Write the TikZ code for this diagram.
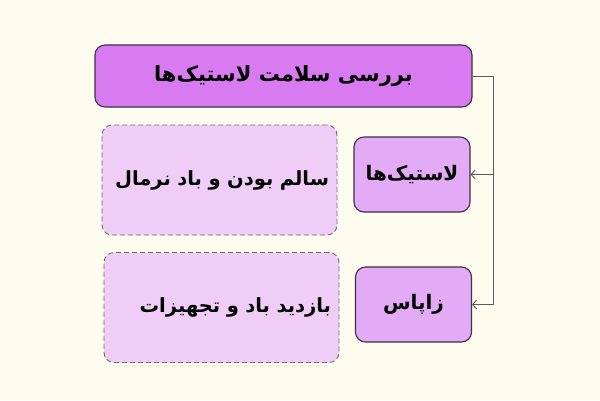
\documentclass[tikz,border=0pt]{standalone}
\usepackage{fontspec}
\TeXXeTstate=1
\newfontfamily\fafont[Script=Arabic]{DejaVu Sans}
\usetikzlibrary{arrows.meta}
\definecolor{bgcream}{HTML}{FDFCEE}
\definecolor{headfill}{HTML}{D97BF0}
\definecolor{tirefill}{HTML}{E3ABF5}
\definecolor{notefill}{HTML}{F0CDF6}
\definecolor{boxedge}{HTML}{3E2F48}
\definecolor{noteedge}{HTML}{6F6872}
\definecolor{linkgray}{HTML}{5A5A5A}

\begin{document}
\begin{tikzpicture}[x=1pt, y=-1pt,
    headbox/.style={draw=boxedge, line width=1.1pt, fill=headfill, rounded corners=10pt,
        minimum width=377pt, minimum height=62pt, inner sep=0pt,
        font=\fafont\bfseries\fontsize{21}{25}\selectfont},
    itembox/.style={draw=boxedge, line width=1.1pt, fill=tirefill, rounded corners=10pt,
        minimum width=116pt, minimum height=75pt, inner sep=0pt,
        font=\fafont\bfseries\fontsize{20}{24}\selectfont},
    notebox/.style={draw=noteedge, dash pattern=on 5pt off 3pt, line width=0.9pt, fill=notefill,
        rounded corners=10pt, text width=219pt, minimum height=110pt, inner xsep=8pt, align=right,
        font=\fafont\bfseries\fontsize{19.5}{23}\selectfont},
    link/.style={draw=linkgray, line width=0.9pt, -{Straight Barb[length=4pt, width=9pt]}}]

    \useasboundingbox[fill=bgcream] (0,0) rectangle (600,400);

    % main topic
    \node[headbox] (check) at (283.5,76) {\beginR بررسی سلامت لاستیک‌ها\endR};

    % branches
    \node[itembox] (tires) at (412,174.5) {\beginR لاستیک‌ها\endR};
    \node[itembox] (spare) at (413.5,304.5) {\beginR زاپاس\endR};

    % notes
    \node[notebox] (tirenote) at (219.5,180) {\beginR سالم بودن و باد نرمال\endR};
    \node[notebox] (sparenote) at (221.5,307.5) {\beginR بازدید باد و تجهیزات\endR};

    % connectors
    \coordinate (bus) at (493,76);
    \draw[draw=linkgray, line width=0.9pt] (check.east) -- (bus);
    \draw[link] (bus) |- (tires.east);
    \draw[link] (bus) |- (spare.east);
\end{tikzpicture}
\end{document}
